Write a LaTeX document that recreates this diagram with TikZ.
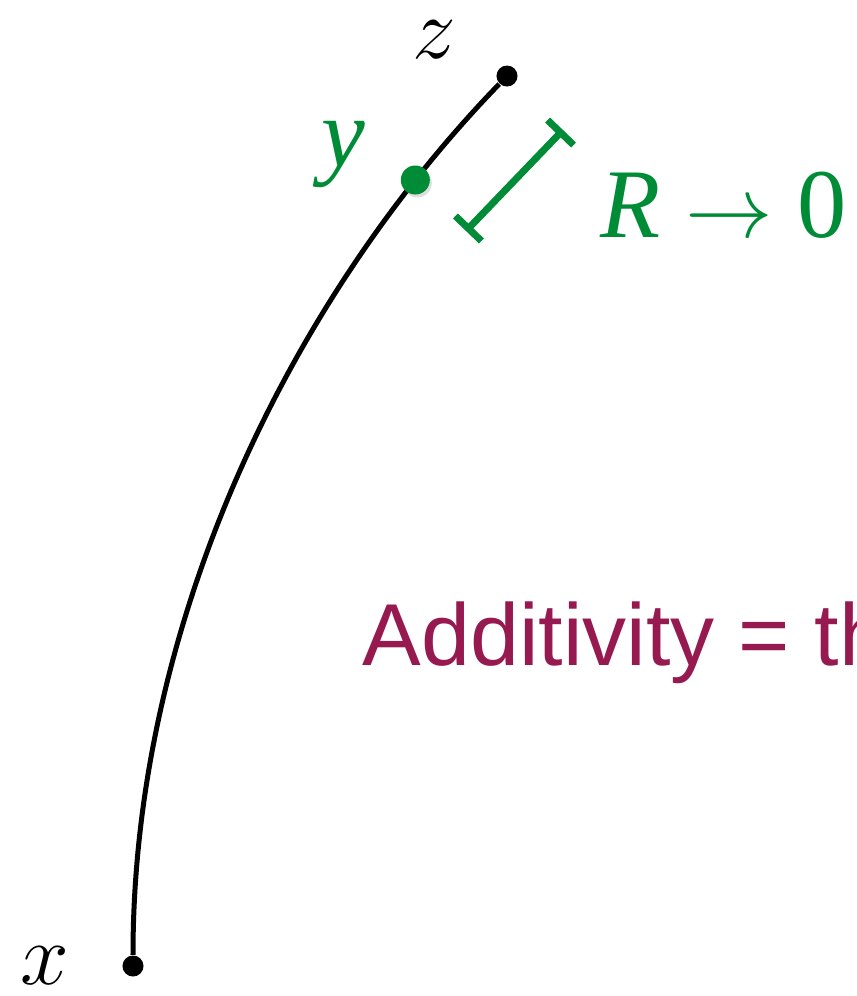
\documentclass[tikz,border=0pt]{standalone}
\usepackage{fontspec}
\newfontfamily\labelfont{Liberation Serif}
\newfontfamily\notefont{Liberation Sans}
\definecolor{pathgreen}{RGB}{0,140,55}
\definecolor{notemaroon}{RGB}{150,25,80}
\usetikzlibrary{arrows.meta, shadows}

\begin{document}
\begin{tikzpicture}[x=0.01cm, y=-0.01cm,
    endpoint/.style={circle, fill=black, inner sep=0pt, minimum size=0.21cm},
    middot/.style={circle, fill=pathgreen, inner sep=0pt, minimum size=0.29cm,
                   drop shadow={shadow xshift=0.02cm, shadow yshift=-0.03cm, opacity=0.25}},
    curve/.style={line width=0.05cm},
    rbar/.style={draw=pathgreen, line width=0.07cm, {Bar[width=0.36cm]}-{Bar[width=0.36cm]}},
    mathlabel/.style={font=\fontsize{27}{30}\selectfont},
    greenlabel/.style={text=pathgreen, font=\fontsize{28}{30}\selectfont\labelfont}
]
    \path[use as bounding box, clip] (0,0) rectangle (856,996);

    \node[endpoint] (x) at (133,966) {};
    \node[endpoint] (z) at (507,76) {};
    \draw[curve] (x) .. controls (133,620) and (292,298) .. (z)
        node[middot, pos=0.86] (y) {};

    \node[mathlabel] (xlabel) at (45,966) {$x$};
    \node[mathlabel] (zlabel) at (434,40) {$z$};
    \node[greenlabel] (ylabel) at (343,155) {\itshape y};

    \coordinate (rlow) at (466,231);
    \coordinate (rhigh) at (563,130);
    \draw[rbar] (rlow) -- (rhigh);
    \node[greenlabel, anchor=base west, inner sep=0pt] (limit) at (600,237)
        {\itshape R\/\upshape\ $\rightarrow$ 0};

    \node[text=notemaroon, anchor=base west, inner sep=0pt,
          font=\fontsize{25}{30}\selectfont\notefont] (note) at (362,665)
        {Additivity = th};
\end{tikzpicture}
\end{document}
